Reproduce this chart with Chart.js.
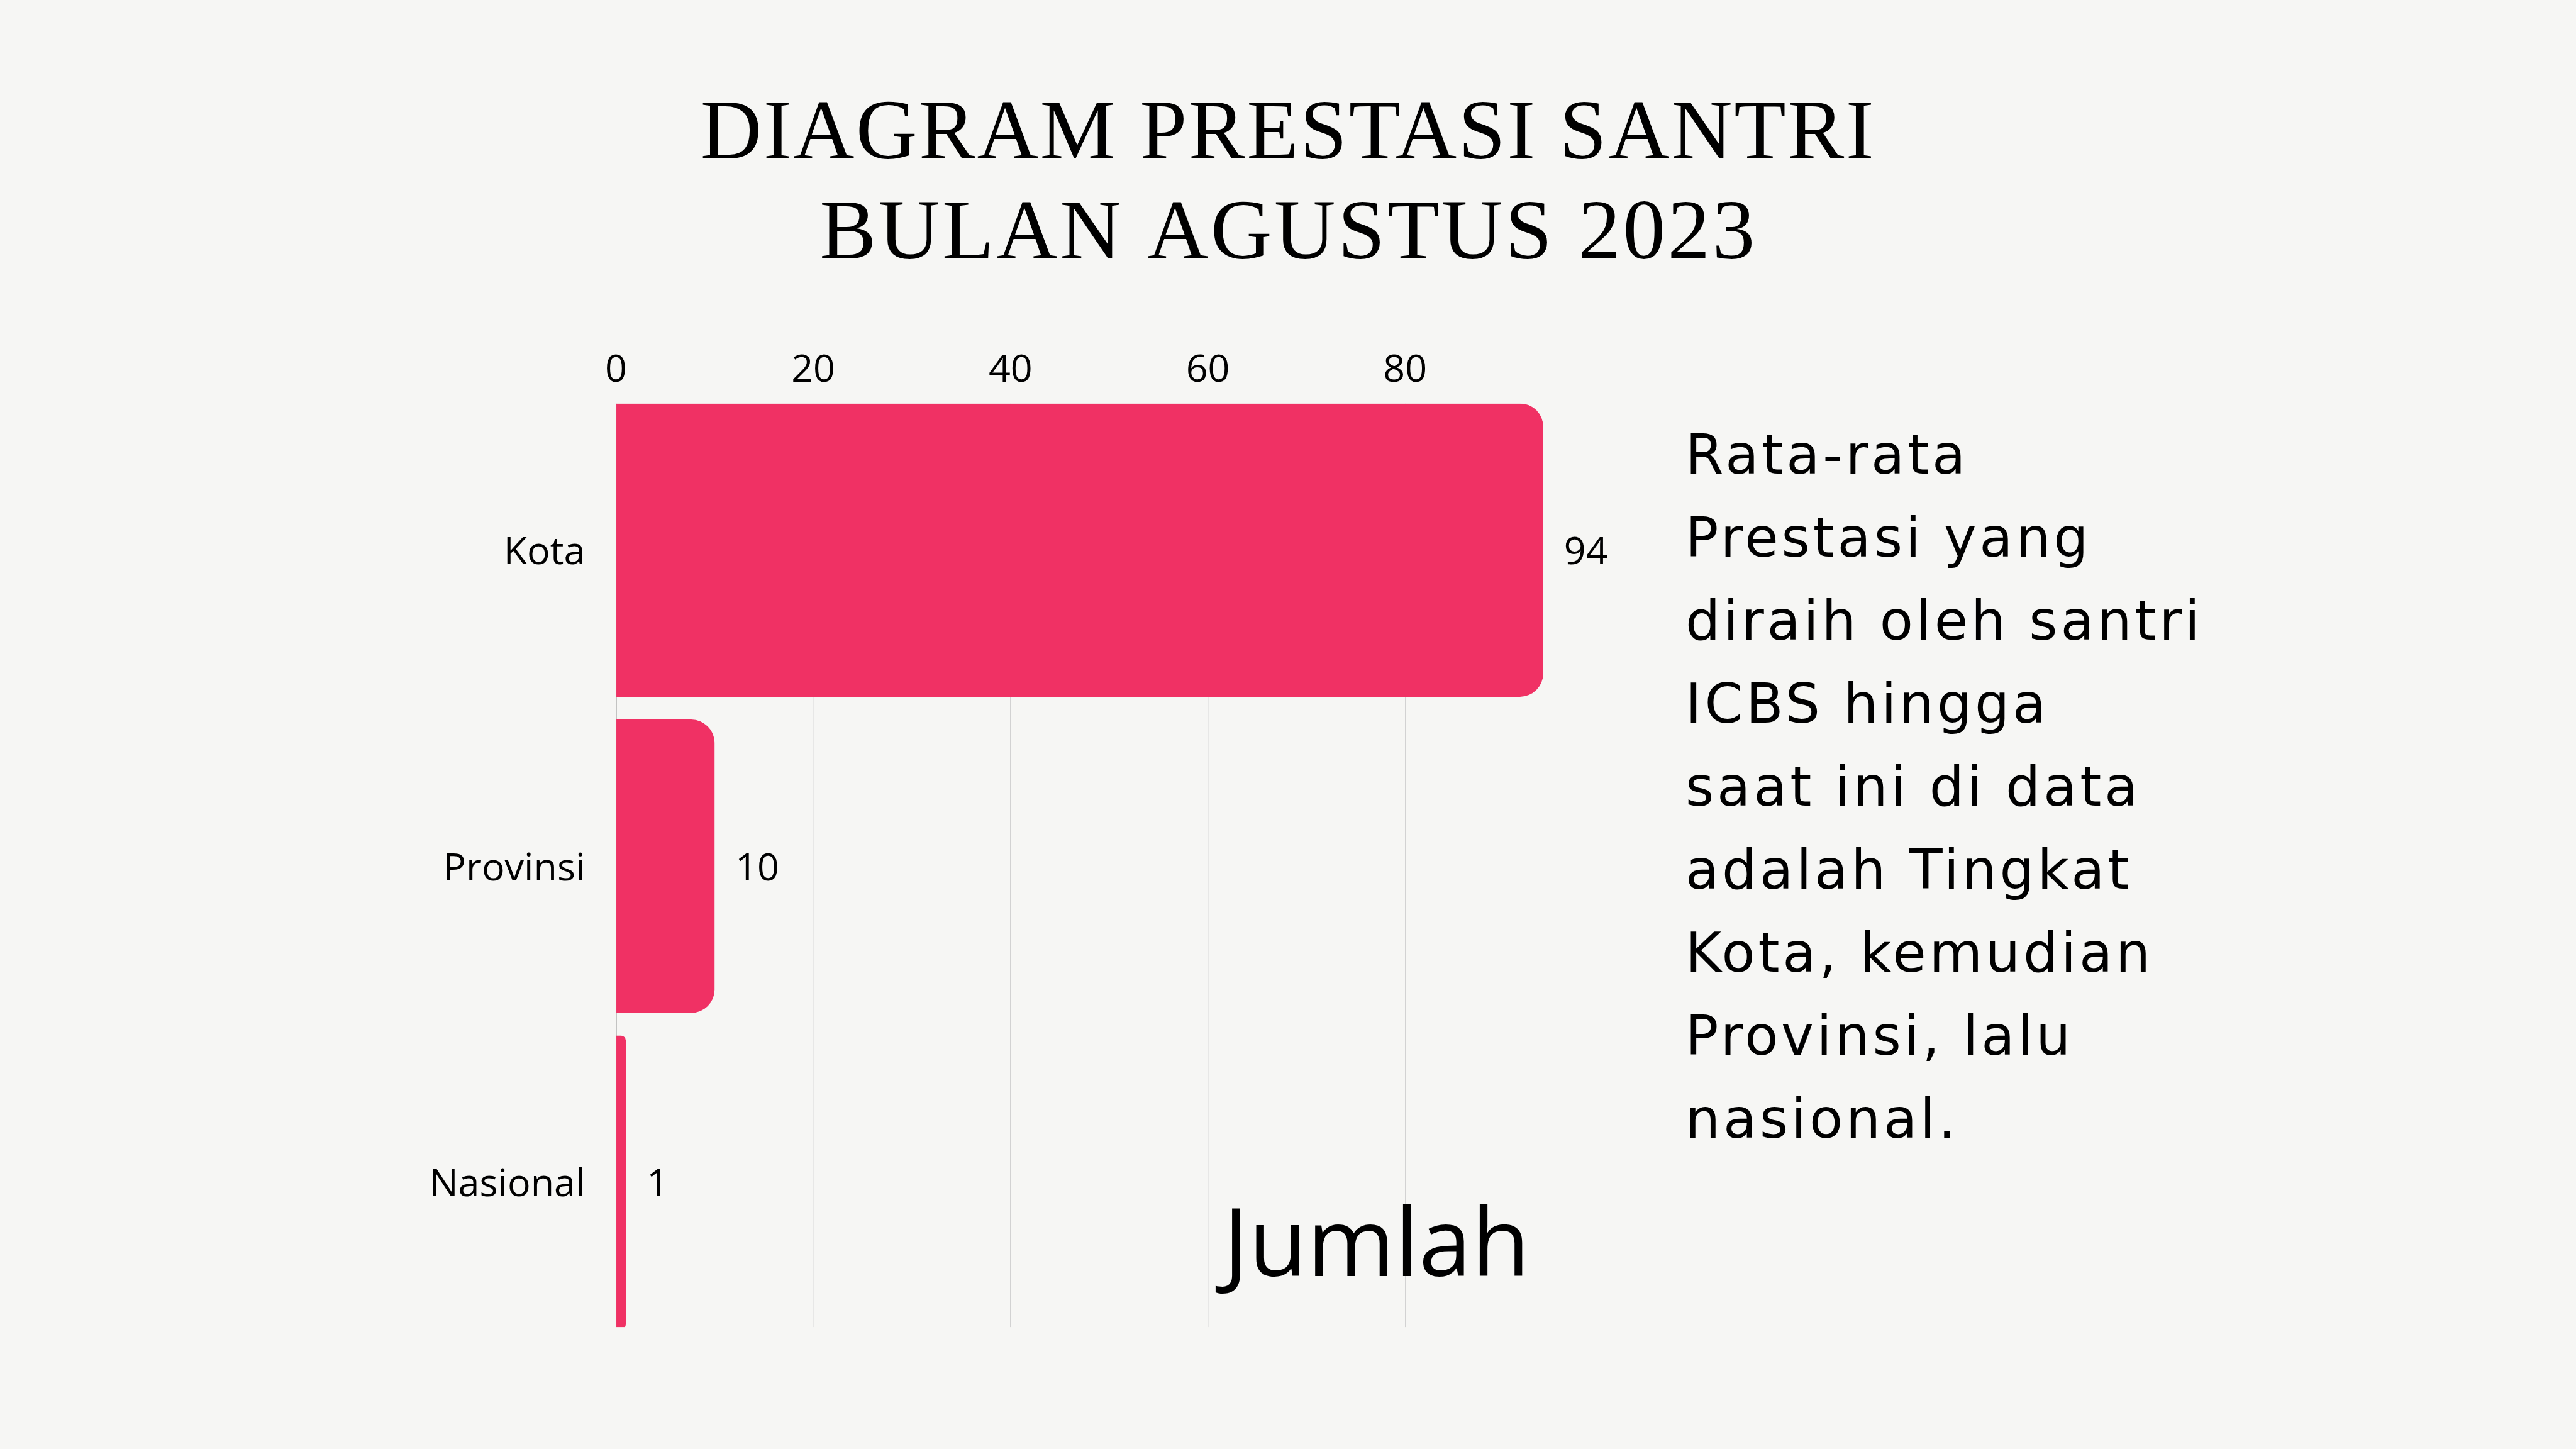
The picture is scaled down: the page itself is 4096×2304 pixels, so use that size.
<!DOCTYPE html>
<html><head><meta charset="utf-8">
<script src="https://cdn.jsdelivr.net/npm/chart.js@4.4.1/dist/chart.umd.min.js"></script>
<style>
html,body{margin:0;padding:0;background:#F6F6F4;width:4096px;height:2304px;overflow:hidden}
#wrap{position:absolute;left:0;top:0;width:4096px;height:2304px}
</style></head><body>
<div id="wrap"><canvas id="c" width="4096" height="2304"></canvas></div>
<script>
// ---- data ----
const categories = ['Kota', 'Provinsi', 'Nasional'];
const values = [94, 10, 1];
const tickValues = [0, 20, 40, 60, 80];
const axisMax = 94;
const titleLines = ['DIAGRAM PRESTASI SANTRI', 'BULAN AGUSTUS 2023'];
const noteLines = ['Rata-rata', 'Prestasi yang', 'diraih oleh santri', 'ICBS hingga', 'saat ini di data', 'adalah Tingkat', 'Kota, kemudian', 'Provinsi, lalu', 'nasional.'];
const axisTitle = 'Jumlah';

// ---- layout / style ----
const BG = '#F6F6F4';
const BAR = '#F03164';
const S = 0.682;
const plotLeft = 1436 * S, plotRight = 3598 * S;
const plotTop = 914 * S, plotBottom = 3125 * S;
const visTop = 941 * S, visBottom = 3094 * S;
const labelFont = {family: "'Open Sans'", size: 61, weight: '400'};

const deco = {
  id: 'deco',
  afterDatasetsDraw(chart) {
    const {ctx, chartArea: a} = chart;
    ctx.save();
    ctx.fillStyle = BG;
    ctx.fillRect(a.left - 4, a.top - 2, a.right - a.left + 8, visTop - a.top + 2);
    ctx.fillRect(a.left - 4, visBottom, a.right - a.left + 8, a.bottom - visBottom + 4);
    ctx.restore();
  },
  afterDraw(chart) {
    const {ctx} = chart;
    ctx.save();
    // value labels
    const meta = chart.getDatasetMeta(0);
    ctx.fillStyle = '#000';
    ctx.font = '400 61px "Open Sans"';
    ctx.textAlign = 'left';
    ctx.textBaseline = 'middle';
    meta.data.forEach((el, i) => {
      ctx.fillText(String(values[i]), el.x + 33, el.y + 5);
    });
    // title
    ctx.font = '400 135px "Liberation Serif"';
    ctx.textBaseline = 'alphabetic';
    const tTargets = [{w: 1866, y: 251.7}, {w: 1487, y: 410.6}];
    titleLines.forEach((line, i) => {
      ctx.letterSpacing = '0px';
      const nat = ctx.measureText(line).width;
      const ls = (tTargets[i].w - nat) / (line.length - 1);
      ctx.letterSpacing = ls + 'px';
      ctx.fillText(line, 2046.7 - tTargets[i].w / 2, tTargets[i].y);
    });
    // note paragraph
    ctx.font = '400 87px "DejaVu Sans"';
    ctx.letterSpacing = '0px';
    const ref = noteLines[2];
    const nat2 = ctx.measureText(ref).width;
    const ls2 = (818 - nat2) / (ref.length - 1);
    ctx.letterSpacing = ls2 + 'px';
    noteLines.forEach((line, i) => {
      ctx.fillText(line, 2680, 753 + i * 132);
    });
    // axis title
    ctx.letterSpacing = '0px';
    ctx.font = '500 151px "Open Sans"';
    ctx.fillText(axisTitle, 1945, 2029);
    ctx.restore();
  }
};

new Chart(document.getElementById('c'), {
  type: 'bar',
  data: {
    labels: categories,
    datasets: [{
      data: values,
      backgroundColor: BAR,
      borderRadius: 37,
      borderSkipped: 'start',
      barPercentage: 0.928,
      categoryPercentage: 1
    }]
  },
  options: {
    indexAxis: 'y',
    responsive: false,
    animation: false,
    devicePixelRatio: 1,
    layout: {padding: {left: 0, top: 0, right: 4096 - plotRight, bottom: 2304 - plotBottom}},
    plugins: {legend: {display: false}, title: {display: false}, tooltip: {enabled: false}},
    scales: {
      x: {
        type: 'linear',
        position: 'top',
        min: 0,
        max: axisMax,
        afterBuildTicks: (s) => { s.ticks = tickValues.map(v => ({value: v})); },
        afterFit: (s) => { s.height = plotTop; },
        ticks: {color: '#000', font: labelFont, padding: -3, maxRotation: 0},
        grid: {color: '#d2d2d2', lineWidth: 1.4, drawTicks: false},
        border: {display: false}
      },
      y: {
        type: 'category',
        afterFit: (s) => { s.width = plotLeft; },
        ticks: {color: '#000', font: labelFont, padding: 49, labelOffset: 5},
        grid: {drawOnChartArea: false, drawTicks: false},
        border: {display: true, color: '#8c8c8c', width: 1.4}
      }
    }
  },
  plugins: [deco]
});
</script>
</body></html>
